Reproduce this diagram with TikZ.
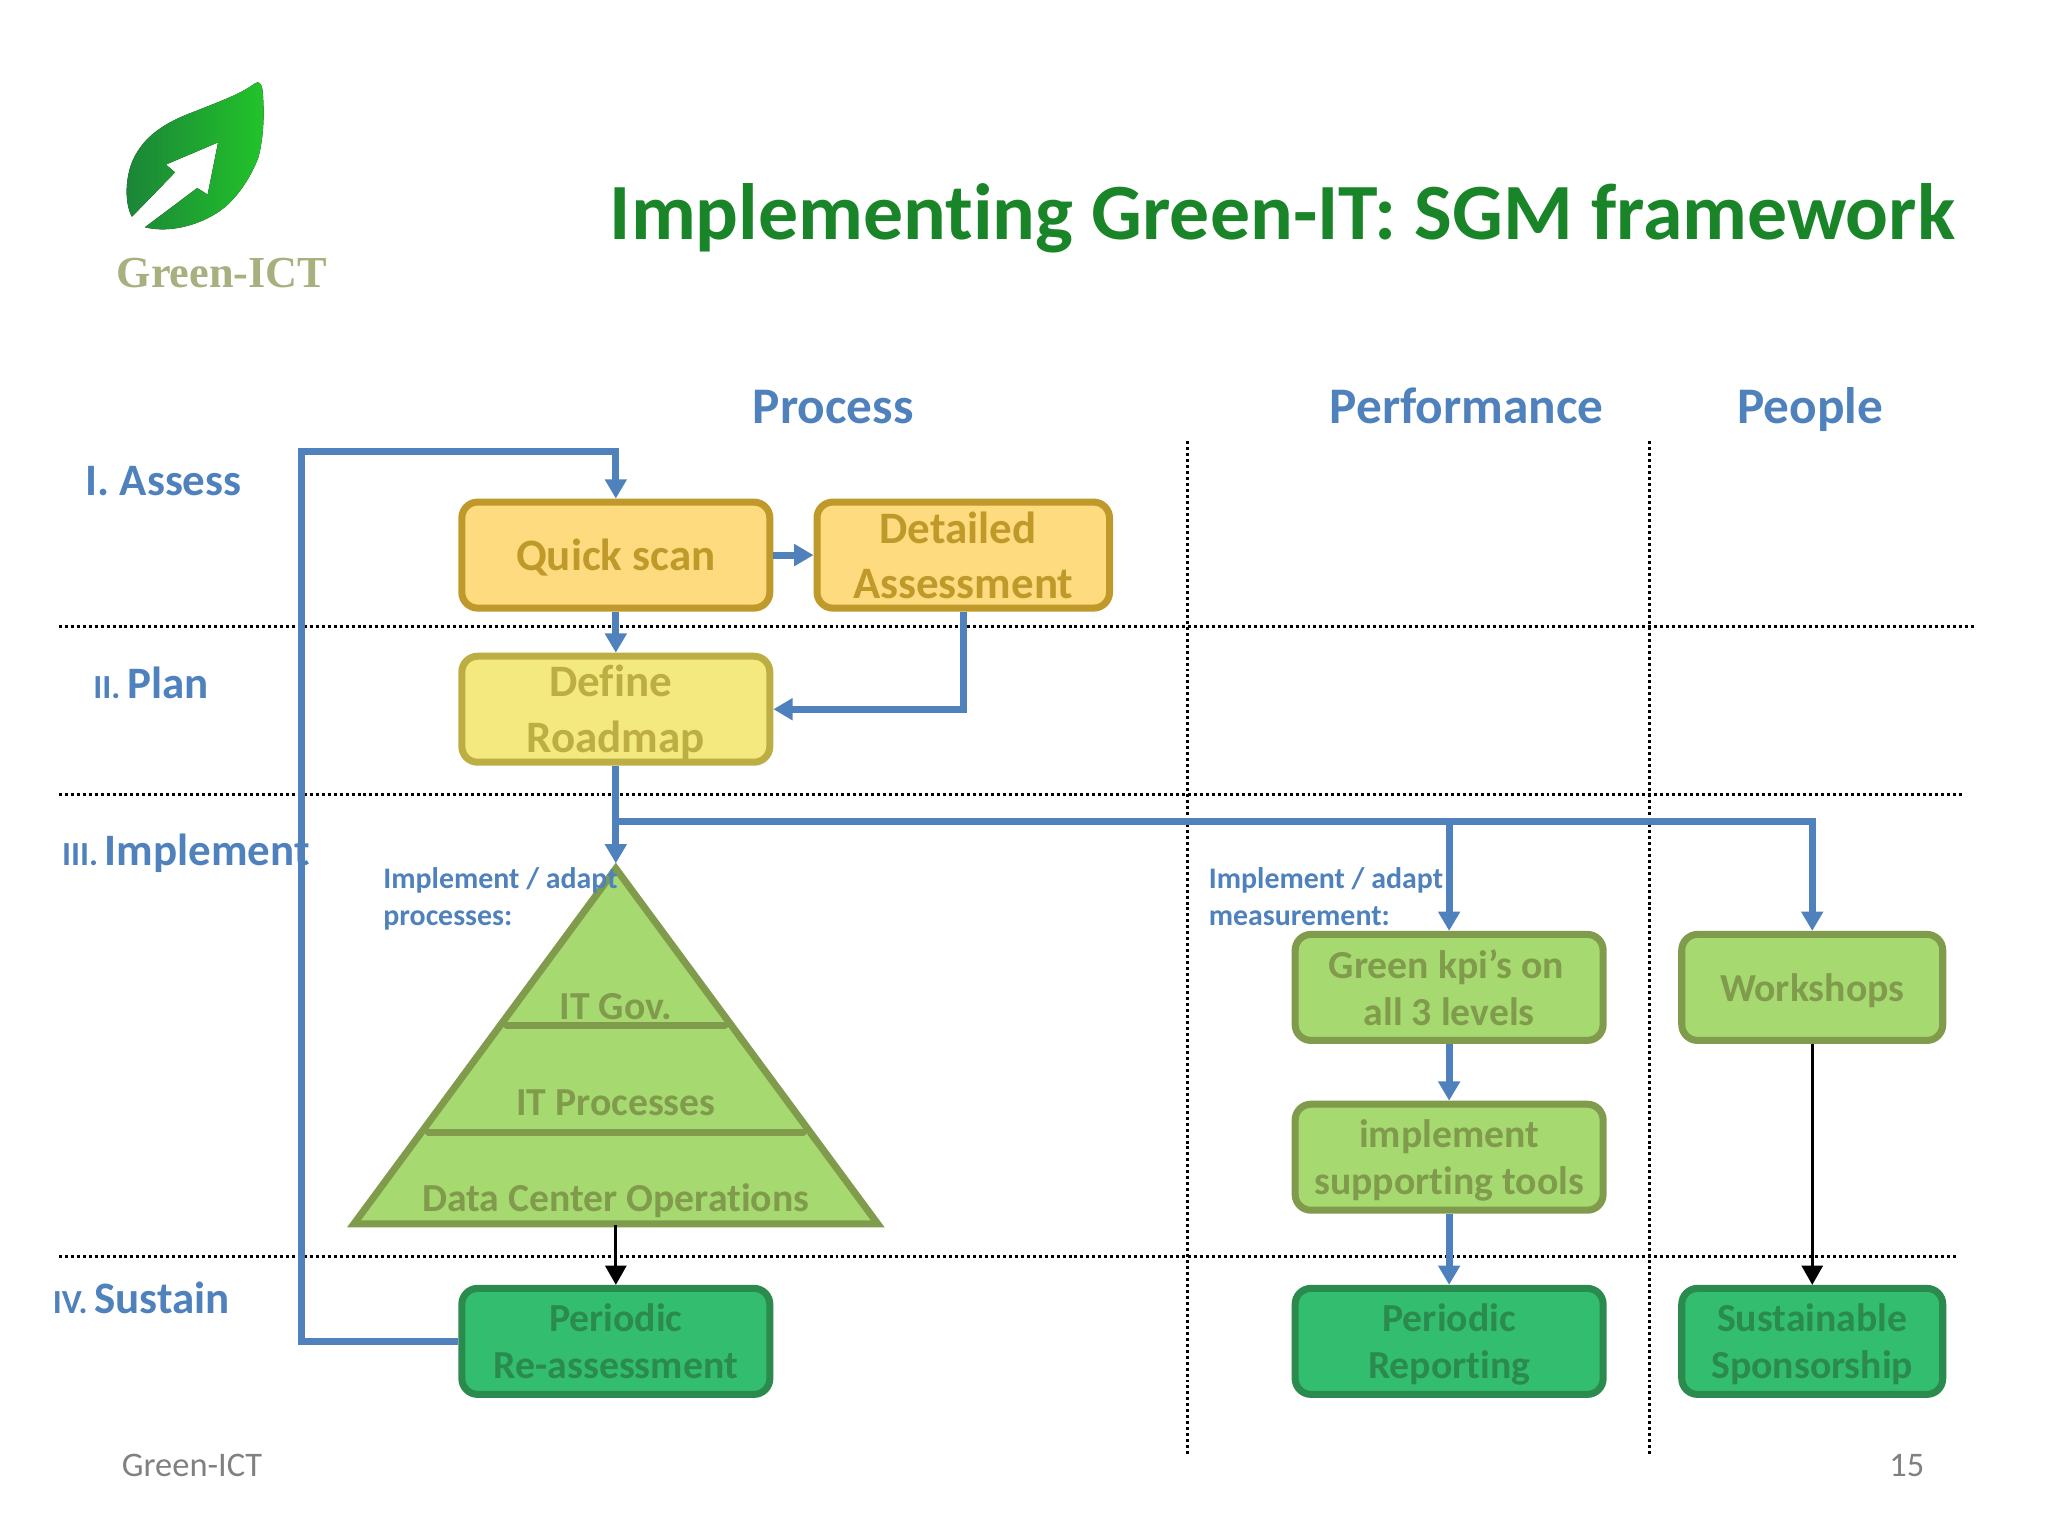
\documentclass[tikz,border=0pt]{standalone}
\usepackage{fontspec}
\setmainfont[Ligatures=NoCommon]{Carlito}
\newfontfamily\logofont{Liberation Serif}
\usetikzlibrary{arrows.meta}

\definecolor{framblue}{HTML}{4F81BD}
\definecolor{framtitle}{HTML}{1A8528}
\definecolor{orangefill}{HTML}{FFDB7F}
\definecolor{orangeline}{HTML}{BF9A2B}
\definecolor{yellowfill}{HTML}{F3E97E}
\definecolor{yellowline}{HTML}{BDAE44}
\definecolor{limefill}{HTML}{A7D971}
\definecolor{limeline}{HTML}{7F9B4B}
\definecolor{seafill}{HTML}{33BE6F}
\definecolor{sealine}{HTML}{2B8A4E}
\definecolor{logotext}{HTML}{A8B080}
\definecolor{leafdark}{HTML}{1B8438}
\definecolor{leaflight}{HTML}{22C42A}

\newcommand{\lowtext}[1]{\raisebox{-0.34em}[0pt][0pt]{#1}}

\tikzset{
    box/.style={draw,rounded corners=4.5pt,line width=2pt,align=center,inner sep=0pt,
        minimum height=1.06cm},
    oneline/.style={execute at begin node={\rule{0pt}{0.86em}}},
    bigbox/.style={box,font=\fontsize{12.8}{15.7}\selectfont\bfseries},
    smallbox/.style={box,font=\fontsize{11.3}{13.5}\selectfont\bfseries},
    quickbox/.style={bigbox,fill=orangefill,text=orangeline,draw=orangeline},
    planbox/.style={bigbox,fill=yellowfill,text=yellowline,draw=yellowline},
    limebox/.style={smallbox,fill=limefill,text=limeline,draw=limeline},
    seabox/.style={smallbox,fill=seafill,text=sealine,draw=sealine},
    flow/.style={->,framblue,line width=2pt},
    back/.style={->,black,line width=0.85pt},
    sep/.style={line width=0.85pt,dash pattern=on 0.85pt off 0.85pt},
    head/.style={text=framblue,anchor=base,font=\fontsize{14.6}{18}\selectfont\bfseries},
    row/.style={text=framblue,anchor=west,inner sep=0pt,font=\fontsize{12.8}{16}\selectfont\bfseries},
    note/.style={text=framblue,align=left,anchor=north west,inner sep=0pt,
        font=\fontsize{8.5}{10.5}\selectfont\bfseries},
    layer/.style={text=limeline,font=\fontsize{11.3}{13}\selectfont\bfseries},
    foot/.style={text=black!50,font=\fontsize{9.8}{11}\selectfont},
}

\begin{document}
\begin{tikzpicture}[x=0.013061cm,y=-0.013061cm,>={Triangle[length=5.5pt,width=6pt]}]
    \useasboundingbox (0,0) rectangle (1568,1176);

    \fill[shading=axis,left color=leafdark,right color=leaflight]
    (111,174) .. controls (135,180) and (165,168) .. (178,153)
    .. controls (192,138) and (198,120) .. (198,120)
    .. controls (203,100) and (202,80) .. (201,69)
    .. controls (200,63) and (198,62) .. (195,64)
    .. controls (184,72) and (170,77) .. (150,85)
    .. controls (125,94) and (110,105) .. (102,122)
    .. controls (96,135) and (95,155) .. (101,166)
    -- (134,132) -- (127,126) -- (167,109) -- (159,149) -- (151,144) -- cycle;
    \node (logoname) at (170,209) {\color{logotext}\logofont\fontsize{12.6}{15}\selectfont\bfseries Green-ICT};

    \node[text=framtitle,font=\fontsize{22.7}{28}\selectfont\bfseries] (title) at (982,167) {Implementing Green-IT: SGM framework};

    \node[head] (process) at (638,324) {Process};
    \node[head] (performance) at (1123,324) {Performance};
    \node[head] (people) at (1386,324) {People};

    \node[row] (assess) at (65,368) {I. Assess};
    \node[row] (plan) at (71,523) {{\fontsize{9.6}{12}\selectfont II.}\kern-1pt\ Plan};
    \node[row] (implement) at (47,653) {{\fontsize{9.6}{12}\selectfont III.}\kern-1pt\ Implement};
    \node[row] (sustain) at (40,994) {{\fontsize{9.6}{12}\selectfont IV.}\kern-1pt\ Sustain};

    % swimlanes
    \coordinate (hA) at (45,480);
    \coordinate (hAe) at (1512,480);
    \coordinate (hB) at (45,608);
    \coordinate (hBe) at (1503,608);
    \coordinate (hC) at (45,962);
    \coordinate (hCe) at (1499,962);
    \coordinate (vA) at (909,338);
    \coordinate (vAe) at (909,1115);
    \coordinate (vB) at (1263,338);
    \coordinate (vBe) at (1263,1115);
    \draw[sep] (hA) -- (hAe);
    \draw[sep] (hB) -- (hBe);
    \draw[sep] (hC) -- (hCe);
    \draw[sep] (vA) -- (vAe);
    \draw[sep] (vB) -- (vBe);

    \node[quickbox,oneline,minimum width=3.08cm] (quick) at (471.5,425) {Quick scan\vphantom{g}};
    \node[quickbox,minimum width=2.925cm] (detail) at (737.5,425) {Detailed\kern3pt\\Assessment};
    \node[planbox,minimum width=3.08cm] (roadmap) at (471.5,543) {\lowtext{Define}\kern3pt\\\lowtext{Roadmap}};

    \node[limebox,minimum width=3.08cm] (kpi) at (1109.5,756) {Green kpi’s on\kern1.5pt\\all 3 levels};
    \node[limebox,minimum width=3.08cm] (tools) at (1109.5,886) {\lowtext{implement}\\\lowtext{supporting tools}};
    \node[limebox,oneline,minimum width=2.61cm] (workshops) at (1387.5,756) {Workshops};

    \node[seabox,minimum width=3.08cm] (reassess) at (471.5,1027) {Periodic\\Re-assessment};
    \node[seabox,minimum width=3.08cm] (reporting) at (1109.5,1027) {\lowtext{Periodic}\\\lowtext{Reporting}};
    \node[seabox,minimum width=2.61cm] (sponsor) at (1387.5,1027) {\lowtext{Sustainable}\\\lowtext{Sponsorship}};

    % pyramid
    \coordinate (apex) at (471.5,661);
    \coordinate (base) at (471.5,938);
    \draw[fill=limefill,draw=limeline,line width=2pt] (271,937) -- (471.5,665) -- (672,937) -- cycle;
    \draw[limeline,line width=2pt,line cap=round] (388,785) -- (555,785);
    \draw[limeline,line width=2pt,line cap=round] (328,867) -- (615,867);
    \node[layer] (itgov) at (471.5,771) {IT Gov.};
    \node[layer] (itproc) at (471.5,844) {IT Processes};
    \node[layer] (dcops) at (471.5,919) {Data Center Operations};

    \node[note] (noteproc) at (293,664) {Implement / adapt\\processes:};
    \node[note] (notemeas) at (925,664) {Implement / adapt\\measurement:};

    % connectors
    \coordinate (split) at (471.5,629);
    \coordinate (loopA) at (231,1027);
    \coordinate (loopB) at (231,346);
    \coordinate (loopC) at (471.5,346);
    \coordinate (splitkpi) at (1109.5,629);
    \coordinate (splitppl) at (1387.5,629);

    \draw[flow] (reassess.west) -- (loopA) -- (loopB) -- (loopC) -- (quick.north);
    \draw[flow] (quick.east) -- (detail.west);
    \draw[flow] (quick.south) -- (roadmap.north);
    \draw[flow] (detail.south) |- (roadmap.east);
    \draw[flow] (roadmap.south) -- (apex);
    \draw[flow] (split) -- (splitppl) -- (workshops.north);
    \draw[flow] (splitkpi) -- (kpi.north);
    \draw[flow] (kpi.south) -- (tools.north);
    \draw[flow] (tools.south) -- (reporting.north);
    \draw[back] (base) -- (reassess.north);
    \draw[back] (workshops.south) -- (sponsor.north);

    \node[foot] (footname) at (147,1122) {Green-ICT};
    \node[foot] (pagenum) at (1460,1122) {15};
\end{tikzpicture}
\end{document}
